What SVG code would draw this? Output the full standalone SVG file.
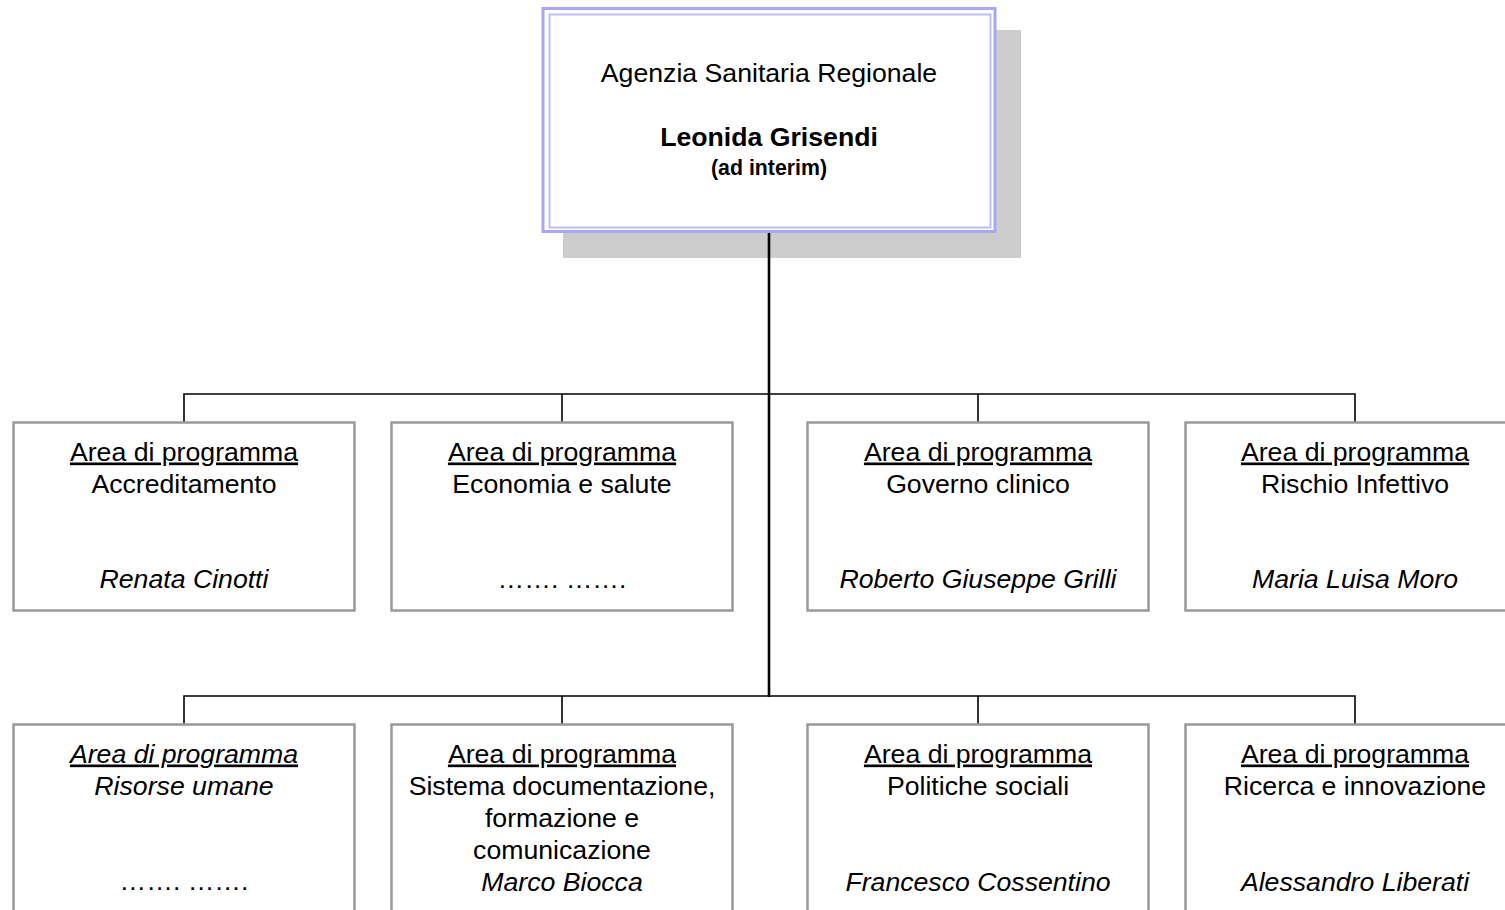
<svg xmlns="http://www.w3.org/2000/svg" width="1505" height="910" viewBox="0 0 1505 910">
<style>
text{font-family:"Liberation Sans",Arial,sans-serif;font-size:26.67px;fill:#000;text-anchor:middle}
.u{text-decoration:underline}
.i{font-style:italic}
.b{font-weight:bold}
.box{fill:#fff;stroke:#999;stroke-width:2.5}
.ln{stroke:#000;fill:none;stroke-width:1.6}
</style>
<rect width="1505" height="910" fill="#fff"/>
<g id="top">
<rect x="563" y="30" width="458" height="228" fill="#ccc"/>
<rect x="543" y="8.5" width="452" height="223" fill="#fff" stroke="#a8a8f2" stroke-width="3"/>
<rect x="549.5" y="14.5" width="441" height="213" fill="none" stroke="#bcbcff" stroke-width="2"/>
<text x="769" y="82">Agenzia Sanitaria Regionale</text>
<text x="769" y="146" class="b">Leonida Grisendi</text>
<text x="769" y="175" class="b" style="font-size:21.3px">(ad interim)</text>
</g>
<g id="connectors">
<line class="ln" x1="769" y1="233" x2="769" y2="697" style="stroke-width:2.6"/>
<polyline class="ln" points="184,422 184,394 1355,394 1355,422"/>
<line class="ln" x1="562" y1="394" x2="562" y2="422"/>
<line class="ln" x1="978" y1="394" x2="978" y2="422"/>
<polyline class="ln" points="184,724 184,696 1355,696 1355,724"/>
<line class="ln" x1="562" y1="696" x2="562" y2="724"/>
<line class="ln" x1="978" y1="696" x2="978" y2="724"/>
</g>
<g id="accreditamento">
<rect class="box" x="13.5" y="422.5" width="341" height="188"/>
<text x="184" y="460.5" class="u">Area di programma</text>
<text x="184" y="492.5">Accreditamento</text>
<text x="184" y="588" class="i">Renata Cinotti</text>
</g>
<g id="economia">
<rect class="box" x="391.5" y="422.5" width="341" height="188"/>
<text x="562" y="460.5" class="u">Area di programma</text>
<text x="562" y="492.5">Economia e salute</text>
<text x="562" y="588">……. …….</text>
</g>
<g id="governo">
<rect class="box" x="807.5" y="422.5" width="341" height="188"/>
<text x="978" y="460.5" class="u">Area di programma</text>
<text x="978" y="492.5">Governo clinico</text>
<text x="978" y="588" class="i">Roberto Giuseppe Grilli</text>
</g>
<g id="rischio">
<rect class="box" x="1185.5" y="422.5" width="341" height="188"/>
<text x="1355" y="460.5" class="u">Area di programma</text>
<text x="1355" y="492.5">Rischio Infettivo</text>
<text x="1355" y="588" class="i">Maria Luisa Moro</text>
</g>
<g id="risorse">
<rect class="box" x="13.5" y="724.5" width="341" height="200"/>
<text x="184" y="762.5" class="u i">Area di programma</text>
<text x="184" y="794.5" class="i">Risorse umane</text>
<text x="184" y="890">……. …….</text>
</g>
<g id="sistema">
<rect class="box" x="391.5" y="724.5" width="341" height="200"/>
<text x="562" y="762.5" class="u">Area di programma</text>
<text x="562" y="794.5">Sistema documentazione,</text>
<text x="562" y="826.5">formazione e</text>
<text x="562" y="858.5">comunicazione</text>
<text x="562" y="890.5" class="i">Marco Biocca</text>
</g>
<g id="politiche">
<rect class="box" x="807.5" y="724.5" width="341" height="200"/>
<text x="978" y="762.5" class="u">Area di programma</text>
<text x="978" y="794.5">Politiche sociali</text>
<text x="978" y="890.5" class="i">Francesco Cossentino</text>
</g>
<g id="ricerca">
<rect class="box" x="1185.5" y="724.5" width="341" height="200"/>
<text x="1355" y="762.5" class="u">Area di programma</text>
<text x="1355" y="794.5">Ricerca e innovazione</text>
<text x="1355" y="890.5" class="i">Alessandro Liberati</text>
</g>
</svg>
